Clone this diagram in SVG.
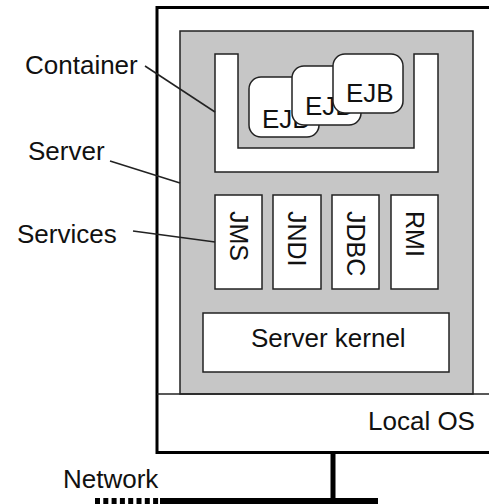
<svg xmlns="http://www.w3.org/2000/svg" width="489" height="504" viewBox="0 0 489 504">
<style>
text{font-family:"Liberation Sans",Arial,sans-serif;font-size:26px;fill:#111}
.box{fill:#fff;stroke:#222;stroke-width:1.5}
.lead{stroke:#222;stroke-width:1.5;fill:none}
.rot{font-size:25px}
</style>
<rect width="489" height="504" fill="#fff"/>
<g id="server">
<rect x="157" y="7.5" width="340" height="445" fill="#fff" stroke="#000" stroke-width="3"/>
<rect x="180" y="31" width="293" height="363" fill="#c6c6c6" stroke="#222" stroke-width="1.5"/>
</g>
<g id="local-os">
<line x1="157" y1="394" x2="489" y2="394" stroke="#222" stroke-width="1.5"/>
<text x="368" y="430">Local OS</text>
</g>
<g id="container">
<path class="box" d="M215,54 V172 H438 V54 H414 V148 H238 V54 Z"/>
</g>
<g id="ejb1">
<rect class="box" x="249" y="77" width="70" height="60" rx="12"/>
<text x="262" y="128">EJB</text>
</g>
<g id="ejb2">
<rect class="box" x="292" y="66" width="69" height="59" rx="12"/>
<text x="305" y="115">EJB</text>
</g>
<g id="ejb3">
<rect class="box" x="333" y="54" width="70" height="59" rx="12"/>
<text x="346" y="102">EJB</text>
</g>
<g id="jms">
<rect class="box" x="215" y="195" width="47" height="94"/>
<text class="rot" transform="translate(238.5,211) rotate(90)" dominant-baseline="central">JMS</text>
</g>
<g id="jndi">
<rect class="box" x="273" y="195" width="48" height="94"/>
<text class="rot" transform="translate(297,211) rotate(90)" dominant-baseline="central">JNDI</text>
</g>
<g id="jdbc">
<rect class="box" x="332" y="195" width="47" height="94"/>
<text class="rot" transform="translate(355.5,211) rotate(90)" dominant-baseline="central">JDBC</text>
</g>
<g id="rmi">
<rect class="box" x="391" y="195" width="47" height="94"/>
<text class="rot" transform="translate(414.5,211) rotate(90)" dominant-baseline="central">RMI</text>
</g>
<g id="kernel">
<rect class="box" x="203" y="313" width="246" height="59"/>
<text x="251" y="347">Server kernel</text>
</g>
<g id="labels">
<text x="25" y="74">Container</text>
<text x="28" y="160">Server</text>
<text x="17" y="243">Services</text>
<text x="63" y="488">Network</text>
</g>
<g id="connectors">
<line class="lead" x1="145" y1="66" x2="215" y2="112"/>
<line class="lead" x1="110" y1="161" x2="180" y2="183"/>
<line class="lead" x1="133" y1="231" x2="215" y2="242"/>
<line x1="333" y1="452" x2="333" y2="500" stroke="#000" stroke-width="5"/>
<line x1="160" y1="501" x2="378" y2="501" stroke="#000" stroke-width="6"/>
<line x1="95" y1="501" x2="160" y2="501" stroke="#000" stroke-width="6" stroke-dasharray="5 3.3"/>
</g>
</svg>
